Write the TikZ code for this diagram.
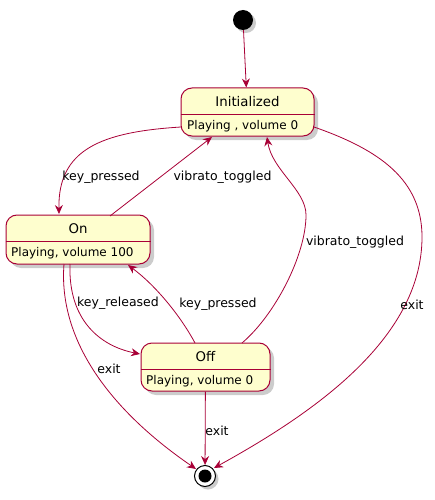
\documentclass[tikz,border=0pt]{standalone}
\usepackage{fontspec}
\setmainfont{DejaVu Sans}
\usetikzlibrary{arrows.meta,shadows}
\definecolor{pborder}{HTML}{A80036}
\definecolor{pfill}{HTML}{FEFECE}
\tikzset{
  statebox/.style={draw=pborder, fill=pfill, line width=1pt, rounded corners=11pt, inner sep=0pt,
     drop shadow={shadow xshift=4pt, shadow yshift=-4pt, fill=black!40, opacity=0.5}},
  divider/.style={draw=pborder, line width=1pt},
  stitle/.style={font=\fontsize{13.3}{15}\selectfont, inner sep=0pt, anchor=center},
  sdesc/.style={font=\fontsize{12}{14}\selectfont, inner sep=0pt, anchor=west},
  elabel/.style={font=\fontsize{12.5}{14}\selectfont, inner sep=0pt, anchor=center},
  conn/.style={draw=pborder, line width=0.8pt, -{Stealth[length=9pt,width=8pt,inset=3pt]}},
}
\begin{document}
\begin{tikzpicture}[x=1pt,y=-1pt]
\useasboundingbox (0,0) rectangle (435,500);

% start
\node[circle, fill=black, minimum size=20pt, inner sep=0pt,
      drop shadow={shadow xshift=3pt, shadow yshift=-3pt, fill=black!40, opacity=0.5}] (start) at (243,20) {};

% Initialized
\node[statebox, minimum width=133pt, minimum height=48pt] (ini) at (247.5,112) {};
\draw[divider] ([yshift=-3pt]ini.west) -- ([yshift=-3pt]ini.east);
\node[stitle] (initle) at (247.5,102) {Initialized};
\node[sdesc] (indesc) at (187,126) {Playing , volume 0};

% On
\node[statebox, minimum width=144pt, minimum height=49pt] (on) at (78,239.5) {};
\draw[divider] ([yshift=-1.5pt]on.west) -- ([yshift=-1.5pt]on.east);
\node[stitle] (ontitle) at (78,229) {On};
\node[sdesc] (ondesc) at (11,253) {Playing, volume 100};

% Off
\node[statebox, minimum width=129pt, minimum height=48pt] (off) at (205.5,367) {};
\draw[divider] ([yshift=-2pt]off.west) -- ([yshift=-2pt]off.east);
\node[stitle] (offtitle) at (205.5,356.5) {Off};
\node[sdesc] (offdesc) at (146,381) {Playing, volume 0};

% end
\node[circle, draw=black, line width=1pt, fill=white, minimum size=21pt, inner sep=0pt,
      drop shadow={shadow xshift=3pt, shadow yshift=-3pt, fill=black!40, opacity=0.5}] (end) at (205,476) {};
\node[circle, fill=black, minimum size=13pt, inner sep=0pt] (endin) at (end.center) {};

% coordinates
\coordinate (a1) at (181,127);
\coordinate (a2) at (59,214);
\coordinate (b1) at (110,216);
\coordinate (b2) at (212,137);
\coordinate (c1) at (195,343);
\coordinate (c2) at (128,265);
\coordinate (d1) at (70,264);
\coordinate (d2) at (140,354);
\coordinate (e1) at (242,343);
\coordinate (e2) at (267,137);
\coordinate (f1) at (64,264);
\coordinate (f2) at (196,469);
\coordinate (g1) at (314,127);
\coordinate (g2) at (214,468);

% edges
\draw[conn] (start) -- (ini);
\draw[conn] (a1) .. controls (100,132) and (58,150) .. (a2);
\draw[conn] (b1) -- (b2);
\draw[conn] (c1) .. controls (180,315) and (155,285) .. (c2);
\draw[conn] (d1) .. controls (68,320) and (100,346) .. (d2);
\draw[conn] (e1) .. controls (275,315) and (306,255) .. (306,215) .. controls (306,190) and (272,170) .. (e2);
\draw[conn] (f1) .. controls (58,340) and (110,410) .. (f2);
\draw[conn] (g1) .. controls (380,150) and (422,180) .. (422,237) .. controls (422,340) and (310,415) .. (g2);
\draw[conn] (off) -- (end);

% labels
\node[elabel] (l1) at (101,177) {key\_pressed};
\node[elabel] (l2) at (222.5,177) {vibrato\_toggled};
\node[elabel] (l3) at (118,303) {key\_released};
\node[elabel] (l4) at (218,304) {key\_pressed};
\node[elabel] (l5) at (355,242) {vibrato\_toggled};
\node[elabel] (l6) at (109,369) {exit};
\node[elabel] (l7) at (412,305) {exit};
\node[elabel] (l8) at (217,431) {exit};
\end{tikzpicture}
\end{document}
